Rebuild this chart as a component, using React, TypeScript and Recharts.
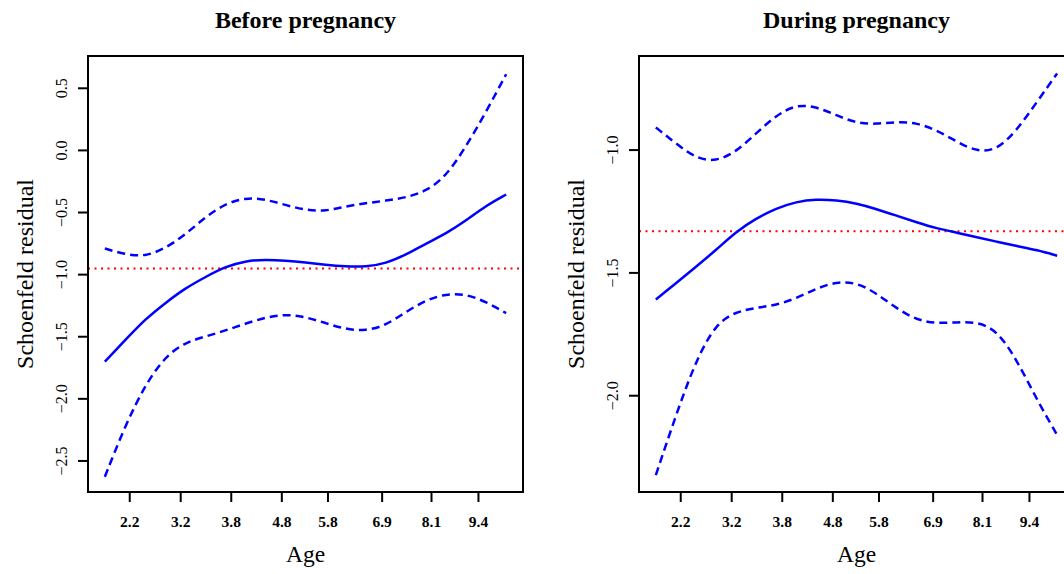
import React from 'react';
import {
  LineChart,
  Line,
  XAxis,
  YAxis,
  ReferenceLine,
  ReferenceArea,
  Label,
} from 'recharts';

// transformed time grid (smoother evaluated at these points)
const tGrid = [0, 5, 10, 15, 20, 25, 30, 35, 40, 45, 50, 55, 60, 65, 70, 75, 80, 85, 90, 95, 100];

// Age ticks sit on the transformed time scale
const ageTickPos = [6.2, 18.9, 31.5, 44.1, 55.6, 69.1, 81.4, 93.1];
const ageTickLabels = ['2.2', '3.2', '3.8', '4.8', '5.8', '6.9', '8.1', '9.4'];

// Before pregnancy
const beforeFit = [-1.7, -1.53, -1.36, -1.23, -1.11, -1.02, -0.936, -0.89, -0.879, -0.887, -0.902, -0.922, -0.935, -0.938, -0.91, -0.84, -0.75, -0.67, -0.565, -0.445, -0.355];
const beforeUpper = [-0.79, -0.837, -0.855, -0.79, -0.68, -0.537, -0.43, -0.38, -0.393, -0.44, -0.48, -0.49, -0.45, -0.425, -0.405, -0.38, -0.33, -0.21, 0.03, 0.31, 0.613];
const beforeLower = [-2.627, -2.22, -1.89, -1.66, -1.545, -1.5, -1.45, -1.395, -1.345, -1.318, -1.34, -1.39, -1.44, -1.452, -1.41, -1.3, -1.205, -1.155, -1.155, -1.22, -1.31];
const beforeTicks = [-2.5, -2.0, -1.5, -1.0, -0.5, 0.0, 0.5];
const beforeRef = -0.95;

// During pregnancy
const duringFit = [-1.608, -1.543, -1.475, -1.407, -1.332, -1.278, -1.237, -1.21, -1.2, -1.204, -1.217, -1.24, -1.267, -1.294, -1.319, -1.336, -1.355, -1.373, -1.391, -1.407, -1.43];
const duringUpper = [-0.908, -0.973, -1.034, -1.047, -1.007, -0.932, -0.858, -0.814, -0.824, -0.858, -0.891, -0.894, -0.885, -0.889, -0.919, -0.966, -1.007, -1.0, -0.919, -0.803, -0.688];
const duringLower = [-2.323, -2.079, -1.855, -1.706, -1.658, -1.642, -1.631, -1.604, -1.563, -1.536, -1.539, -1.583, -1.645, -1.692, -1.706, -1.701, -1.699, -1.733, -1.855, -2.018, -2.16];
const duringTicks = [-2.0, -1.5, -1.0];
const duringRef = -1.33;

const FONT = '"Liberation Serif", "Times New Roman", serif';
const BLUE = '#0000ff';
const X_DOMAIN: [number, number] = [-4.2, 104.2];

const fmt = (v: number) => v.toFixed(1).replace('-', '\u2212');

const XTick = (props: any) => {
  const { x, y, payload } = props;
  const i = ageTickPos.indexOf(payload.value);
  return (
    <text x={x} y={y} textAnchor="middle" fontSize={15.5} fontWeight="bold" fontFamily={FONT} fill="#000">
      {ageTickLabels[i]}
    </text>
  );
};

const YTick = (props: any) => {
  const { x, y, payload } = props;
  return (
    <text x={x} y={y} transform={`rotate(-90 ${x} ${y})`} textAnchor="middle" fontSize={16} fontFamily={FONT} fill="#000">
      {fmt(payload.value)}
    </text>
  );
};

type PanelProps = {
  title: string;
  fit: number[];
  upper: number[];
  lower: number[];
  yDomain: [number, number];
  yTicks: number[];
  refY: number;
  left: number;
};

function Panel({ title, fit, upper, lower, yDomain, yTicks, refY, left }: PanelProps) {
  const rows = tGrid.map((t, i) => ({ t, fit: fit[i], upper: upper[i], lower: lower[i] }));
  return (
    <div style={{ position: 'absolute', left, top: 0, width: 540, height: 574 }}>
      <div
        style={{
          position: 'absolute', left: 88, top: 8, width: 435, textAlign: 'center',
          fontFamily: FONT, fontWeight: 'bold', fontSize: 24, lineHeight: '24px', color: '#000',
        }}
      >
        {title}
      </div>
      <LineChart width={540} height={574} data={rows} margin={{ top: 56, right: 17, bottom: 2, left: 8 }}>
        <XAxis
          type="number"
          dataKey="t"
          domain={X_DOMAIN}
          ticks={ageTickPos}
          interval={0}
          allowDataOverflow
          height={80}
          tickSize={10}
          tickMargin={25}
          tickLine={{ stroke: '#000', strokeWidth: 2 }}
          axisLine={{ stroke: '#000', strokeWidth: 2 }}
          tick={<XTick />}
        >
          <Label
            content={(p: any) => {
              const vb = p.viewBox;
              return (
                <text x={vb.x + vb.width / 2} y={vb.y + 70} textAnchor="middle" fontSize={23.5} fontFamily={FONT} fill="#000">
                  Age
                </text>
              );
            }}
          />
        </XAxis>
        <YAxis
          type="number"
          domain={yDomain}
          ticks={yTicks}
          interval={0}
          allowDataOverflow
          width={80}
          tickSize={10}
          tickMargin={11}
          tickLine={{ stroke: '#000', strokeWidth: 2 }}
          axisLine={{ stroke: '#000', strokeWidth: 2 }}
          tick={<YTick />}
        >
          <Label
            content={(p: any) => {
              const vb = p.viewBox;
              const x = vb.x + 25;
              const y = vb.y + vb.height / 2;
              return (
                <text x={x} y={y} transform={`rotate(-90 ${x} ${y})`} textAnchor="middle" fontSize={24} fontFamily={FONT} fill="#000">
                  Schoenfeld residual
                </text>
              );
            }}
          />
        </YAxis>
        <ReferenceArea x1={X_DOMAIN[0]} x2={X_DOMAIN[1]} y1={yDomain[0]} y2={yDomain[1]} fill="none" stroke="#000" strokeWidth={2} />
        <ReferenceLine y={refY} stroke="#ff0000" strokeWidth={2} strokeDasharray="2 4.5" />
        <Line type="basis" dataKey="upper" stroke={BLUE} strokeWidth={2.5} strokeDasharray="8 5" dot={false} isAnimationActive={false} />
        <Line type="basis" dataKey="lower" stroke={BLUE} strokeWidth={2.5} strokeDasharray="8 5" dot={false} isAnimationActive={false} />
        <Line type="basis" dataKey="fit" stroke={BLUE} strokeWidth={2.5} dot={false} isAnimationActive={false} />
      </LineChart>
    </div>
  );
}

export default function App() {
  return (
    <div style={{ position: 'fixed', left: 0, top: 0, width: 1064, height: 574, overflow: 'hidden', background: '#fff' }}>
      <Panel
        title="Before pregnancy"
        fit={beforeFit}
        upper={beforeUpper}
        lower={beforeLower}
        yDomain={[-2.75, 0.76]}
        yTicks={beforeTicks}
        refY={beforeRef}
        left={0}
      />
      <Panel
        title="During pregnancy"
        fit={duringFit}
        upper={duringUpper}
        lower={duringLower}
        yDomain={[-2.392, -0.617]}
        yTicks={duringTicks}
        refY={duringRef}
        left={551}
      />
    </div>
  );
}
